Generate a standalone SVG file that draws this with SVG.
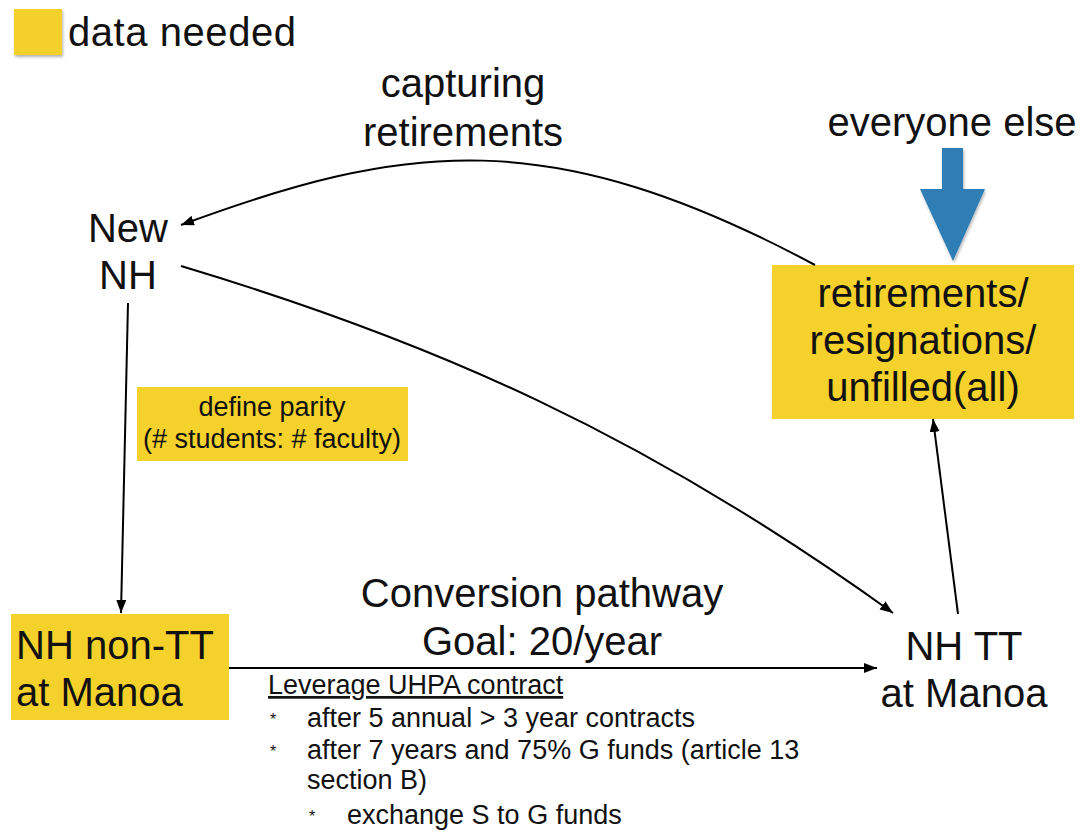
<svg xmlns="http://www.w3.org/2000/svg" width="1086" height="832" viewBox="0 0 1086 832">
<style>
text{font-family:"Liberation Sans",Arial,Helvetica,sans-serif;fill:#111;}
.big{font-size:40px;}
.mid{font-size:27px;}
.star{font-size:16px;}
.c{text-anchor:middle;}
.box{fill:#F4D12B;}
.edge{fill:none;stroke:#000;stroke-width:2;}
</style>
<defs>
<marker id="ah" markerUnits="userSpaceOnUse" markerWidth="14" markerHeight="12" refX="13" refY="5" orient="auto">
<path d="M0,0 L13,5 L0,10 z" fill="#000"/>
</marker>
<filter id="sh" x="-20%" y="-20%" width="140%" height="140%">
<feDropShadow dx="1" dy="2" stdDeviation="1.5" flood-color="#000" flood-opacity="0.3"/>
</filter>
</defs>
<g id="legend">
<rect x="14" y="9" width="48" height="46" class="box" filter="url(#sh)"/>
<text x="68" y="46" class="big" textLength="228">data needed</text>
</g>
<g id="capturing-label">
<text x="463" y="97" class="big c">capturing</text>
<text x="463" y="146" class="big c">retirements</text>
</g>
<g id="everyone-else">
<text x="952" y="136" class="big c">everyone else</text>
<polygon points="942,148 963,148 963,189 985,189 953,261 920,189 942,189" fill="#2E7DB5" filter="url(#sh)"/>
</g>
<g id="new-nh">
<text x="128" y="242" class="big c">New</text>
<text x="128" y="289" class="big c">NH</text>
</g>
<g id="retirements">
<rect x="772" y="265" width="302" height="154" class="box"/>
<text x="923" y="307" class="big c">retirements/</text>
<text x="923" y="354" class="big c">resignations/</text>
<text x="923" y="401" class="big c">unfilled(all)</text>
</g>
<g id="parity">
<rect x="137" y="387" width="271" height="74" class="box"/>
<text x="272" y="416" class="mid c">define parity</text>
<text x="272" y="448" class="mid c">(# students: # faculty)</text>
</g>
<g id="nh-non-tt">
<rect x="11" y="614" width="218" height="106" class="box"/>
<text x="16" y="659" class="big">NH non-TT</text>
<text x="16" y="706" class="big">at Manoa</text>
</g>
<g id="nh-tt">
<text x="964" y="660" class="big c">NH TT</text>
<text x="964" y="707" class="big c">at Manoa</text>
</g>
<g id="conversion-label">
<text x="542" y="607" class="big c">Conversion pathway</text>
<text x="542" y="655" class="big c">Goal: 20/year</text>
</g>
<g id="notes">
<text x="268" y="694" class="mid" text-decoration="underline">Leverage UHPA contract</text>
<text x="270" y="725" class="star">*</text>
<text x="307" y="727" class="mid">after 5 annual &gt; 3 year contracts</text>
<text x="270" y="757" class="star">*</text>
<text x="307" y="759" class="mid">after 7 years and 75% G funds (article 13</text>
<text x="307" y="789" class="mid">section B)</text>
<text x="309" y="822" class="star">*</text>
<text x="347" y="824" class="mid">exchange S to G funds</text>
</g>
<g id="connectors">
<path class="edge" d="M815,265 C550,123 405,142 181,225" marker-end="url(#ah)"/>
<path class="edge" d="M181,266 C431,341 643,433 893,613" marker-end="url(#ah)"/>
<path class="edge" d="M128,303 L121,613" marker-end="url(#ah)"/>
<path class="edge" d="M229,668 L877,668" marker-end="url(#ah)"/>
<path class="edge" d="M958,614 L933,419" marker-end="url(#ah)"/>
</g>
</svg>
